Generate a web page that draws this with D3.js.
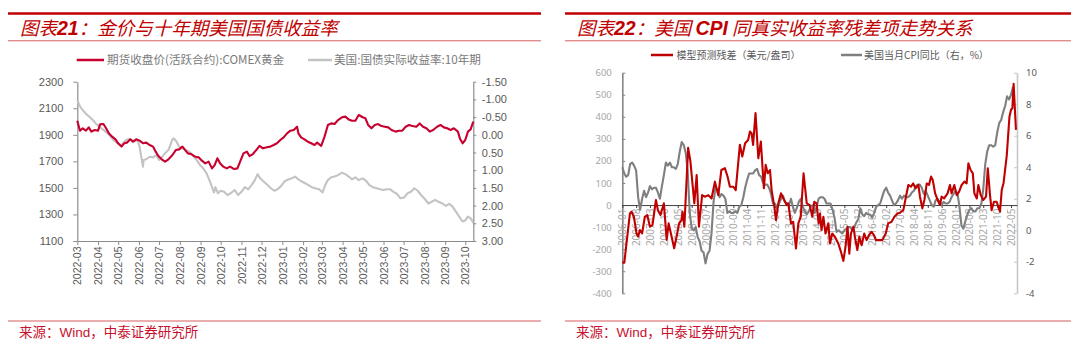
<!DOCTYPE html>
<html><head><meta charset="utf-8">
<script src="https://cdn.jsdelivr.net/npm/d3@7"></script>
<style>
html,body{margin:0;padding:0;background:#fff;}
svg{display:block;}
</style></head><body>
<svg id="c" width="1080" height="356"></svg>
<script>
// ---------- Chart 21 data ----------
const goldDates = ["2022-03-01","2022-03-05","2022-03-09","2022-03-14","2022-03-18","2022-03-22","2022-03-27","2022-04-01","2022-04-04","2022-04-09","2022-04-13","2022-04-17","2022-04-22","2022-04-27","2022-05-01","2022-05-06","2022-05-10","2022-05-14","2022-05-19","2022-05-23","2022-05-28","2022-06-02","2022-06-07","2022-06-12","2022-06-17","2022-06-22","2022-06-26","2022-06-30","2022-07-05","2022-07-10","2022-07-15","2022-07-21","2022-07-26","2022-07-31","2022-08-05","2022-08-09","2022-08-13","2022-08-18","2022-08-24","2022-08-29","2022-09-03","2022-09-08","2022-09-13","2022-09-18","2022-09-22","2022-09-26","2022-09-30","2022-10-05","2022-10-10","2022-10-15","2022-10-21","2022-10-26","2022-10-30","2022-11-04","2022-11-09","2022-11-13","2022-11-18","2022-11-23","2022-11-28","2022-12-03","2022-12-09","2022-12-14","2022-12-19","2022-12-24","2022-12-29","2023-01-03","2023-01-08","2023-01-13","2023-01-18","2023-01-23","2023-01-25","2023-01-29","2023-02-03","2023-02-08","2023-02-13","2023-02-18","2023-02-22","2023-02-28","2023-03-05","2023-03-10","2023-03-15","2023-03-20","2023-03-25","2023-03-31","2023-04-05","2023-04-10","2023-04-15","2023-04-20","2023-04-25","2023-05-01","2023-05-05","2023-05-09","2023-05-14","2023-05-19","2023-05-24","2023-05-29","2023-06-03","2023-06-08","2023-06-13","2023-06-19","2023-06-24","2023-06-29","2023-07-04","2023-07-09","2023-07-14","2023-07-20","2023-07-25","2023-07-30","2023-08-04","2023-08-09","2023-08-14","2023-08-20","2023-08-25","2023-08-30","2023-09-04","2023-09-09","2023-09-14","2023-09-20","2023-09-23","2023-09-27","2023-10-01","2023-10-05","2023-10-09","2023-10-13"];
const goldValues = [2006,1931,1949,1931,1956,1924,1936,1931,1979,1981,1949,1911,1886,1866,1836,1811,1836,1841,1866,1848,1866,1856,1836,1841,1823,1811,1773,1740,1715,1698,1715,1748,1785,1790,1811,1785,1760,1755,1735,1730,1705,1685,1698,1647,1672,1723,1685,1660,1647,1660,1642,1647,1698,1760,1773,1740,1755,1785,1816,1798,1806,1811,1823,1836,1861,1881,1911,1931,1936,1961,1911,1881,1866,1848,1836,1823,1841,1816,1886,1974,1986,1981,2011,2032,2037,2016,2006,2006,2049,2032,2024,1974,1949,1974,1981,1966,1961,1956,1936,1924,1931,1931,1961,1974,1966,1961,1986,1961,1949,1924,1936,1961,1974,1956,1949,1936,1949,1924,1873,1836,1861,1924,1941,1999];
const yieldDates = ["2022-03-01","2022-03-05","2022-03-09","2022-03-14","2022-03-19","2022-03-24","2022-03-29","2022-04-04","2022-04-09","2022-04-14","2022-04-19","2022-04-24","2022-04-29","2022-05-05","2022-05-10","2022-05-15","2022-05-20","2022-05-25","2022-05-30","2022-06-02","2022-06-04","2022-06-07","2022-06-08","2022-06-12","2022-06-17","2022-06-22","2022-06-27","2022-07-01","2022-07-05","2022-07-10","2022-07-15","2022-07-21","2022-07-23","2022-07-27","2022-07-31","2022-08-05","2022-08-10","2022-08-15","2022-08-21","2022-08-26","2022-08-31","2022-09-05","2022-09-10","2022-09-15","2022-09-21","2022-09-23","2022-09-27","2022-10-01","2022-10-06","2022-10-11","2022-10-16","2022-10-22","2022-10-27","2022-11-01","2022-11-06","2022-11-11","2022-11-16","2022-11-21","2022-11-25","2022-11-29","2022-12-04","2022-12-10","2022-12-15","2022-12-20","2022-12-25","2022-12-30","2023-01-04","2023-01-10","2023-01-15","2023-01-20","2023-01-25","2023-01-30","2023-02-04","2023-02-09","2023-02-14","2023-02-19","2023-02-25","2023-03-02","2023-03-06","2023-03-10","2023-03-15","2023-03-20","2023-03-25","2023-03-31","2023-04-05","2023-04-10","2023-04-15","2023-04-20","2023-04-25","2023-05-01","2023-05-06","2023-05-11","2023-05-16","2023-05-22","2023-05-27","2023-06-01","2023-06-06","2023-06-11","2023-06-16","2023-06-21","2023-06-26","2023-07-02","2023-07-07","2023-07-12","2023-07-17","2023-07-22","2023-07-27","2023-08-02","2023-08-07","2023-08-12","2023-08-17","2023-08-22","2023-08-28","2023-09-02","2023-09-07","2023-09-12","2023-09-17","2023-09-22","2023-09-27","2023-10-01","2023-10-05","2023-10-09","2023-10-13"];
const yieldValues = [-0.98,-0.80,-0.70,-0.59,-0.51,-0.42,-0.31,-0.21,-0.14,-0.06,0.03,0.15,0.22,0.31,0.19,0.13,0.13,0.19,0.15,0.34,0.57,0.90,0.71,0.69,0.62,0.64,0.57,0.71,0.64,0.52,0.43,0.13,0.10,0.19,0.34,0.38,0.43,0.48,0.60,0.71,0.85,0.95,1.09,1.32,1.63,1.48,1.65,1.58,1.61,1.70,1.65,1.56,1.70,1.61,1.48,1.54,1.42,1.28,1.11,1.23,1.32,1.42,1.51,1.58,1.54,1.45,1.32,1.26,1.23,1.18,1.26,1.32,1.37,1.42,1.48,1.51,1.54,1.63,1.42,1.28,1.20,1.18,1.14,1.07,1.11,1.18,1.26,1.20,1.28,1.23,1.30,1.42,1.48,1.51,1.54,1.56,1.54,1.54,1.61,1.67,1.79,1.77,1.65,1.61,1.51,1.58,1.70,1.82,1.94,1.89,1.84,1.89,1.94,2.01,1.95,2.03,2.17,2.31,2.45,2.42,2.31,2.36,2.48];
const chart21XTicks = ["2022-03","2022-04","2022-05","2022-06","2022-07","2022-08","2022-09","2022-10","2022-11","2022-12","2023-01","2023-02","2023-03","2023-04","2023-05","2023-06","2023-07","2023-08","2023-09","2023-10"];
const chart21YTicks = [1100,1300,1500,1700,1900,2100,2300];
const chart21Y2Ticks = [-1.5,-1.0,-0.5,0,0.5,1.0,1.5,2.0,2.5,3.0];

// ---------- Chart 22 data ----------
const residualDates = ["2006-01-01","2006-02-01","2006-04-28","2006-05-22","2006-06-28","2006-08-07","2006-09-01","2006-09-28","2006-11-01","2006-12-13","2007-01-19","2007-03-01","2007-04-10","2007-06-01","2007-07-01","2007-08-10","2007-10-01","2007-11-13","2007-12-13","2008-01-16","2008-03-07","2008-04-13","2008-05-22","2008-06-28","2008-07-13","2008-08-10","2008-10-07","2008-11-10","2009-01-10","2009-02-15","2009-03-22","2009-05-10","2009-06-19","2009-08-13","2009-10-01","2009-11-22","2010-01-13","2010-03-01","2010-04-25","2010-06-04","2010-07-10","2010-09-01","2010-10-07","2010-12-10","2011-01-16","2011-02-28","2011-04-16","2011-05-13","2011-06-07","2011-07-01","2011-08-07","2011-09-19","2011-10-28","2011-12-13","2012-01-10","2012-02-10","2012-03-16","2012-04-10","2012-05-22","2012-06-16","2012-07-22","2012-09-01","2012-10-07","2012-11-28","2012-12-22","2013-02-01","2013-03-07","2013-04-19","2013-05-25","2013-07-01","2013-08-13","2013-10-01","2013-11-16","2013-12-25","2014-01-25","2014-03-01","2014-04-01","2014-04-22","2014-05-16","2014-06-13","2014-07-16","2014-08-28","2014-09-22","2014-10-28","2014-12-07","2015-01-28","2015-03-10","2015-04-16","2015-05-19","2015-06-19","2015-07-16","2015-08-10","2015-09-16","2015-10-10","2015-11-16","2015-12-16","2016-01-22","2016-03-01","2016-04-07","2016-05-13","2016-06-22","2016-07-28","2016-08-28","2016-10-13","2016-12-04","2017-01-25","2017-03-04","2017-04-25","2017-06-07","2017-07-25","2017-09-01","2017-10-22","2017-12-01","2018-01-07","2018-02-16","2018-03-22","2018-04-28","2018-06-10","2018-07-04","2018-08-10","2018-09-10","2018-10-16","2018-11-19","2018-12-22","2019-01-16","2019-02-22","2019-04-01","2019-05-07","2019-06-01","2019-07-10","2019-09-01","2019-10-07","2019-11-01","2019-12-13","2020-01-19","2020-02-25","2020-04-04","2020-05-16","2020-06-19","2020-07-16","2020-08-19","2020-09-22","2020-10-16","2020-11-22","2020-12-16","2021-01-22","2021-03-01","2021-04-13","2021-05-10","2021-06-13","2021-07-07","2021-08-13","2021-09-22","2021-10-19","2021-11-13","2021-12-10","2022-01-07","2022-02-25","2022-04-07","2022-05-01","2022-05-22","2022-06-10","2022-07-16"];
const residualValues = [-261,-261,-38,-30,-53,-128,-143,-113,-128,-53,-45,-98,-90,23,-23,-45,8,-158,-83,-128,-196,-143,-83,-68,-30,-98,260,200,8,136,-98,45,38,45,30,106,45,159,167,129,83,83,68,273,220,280,295,333,326,273,417,212,288,76,182,144,159,68,-8,-68,8,53,30,0,8,-83,-76,-197,-83,-53,144,8,0,-53,15,8,-83,-38,-114,-53,-129,-83,-174,-129,-144,-174,-212,-253,-189,-98,-220,-129,-98,-144,-204,-144,-182,-129,-159,-136,-121,-136,-159,-159,-159,-129,-83,-76,-53,-38,-35,-23,38,91,83,98,76,91,38,-15,23,98,91,129,114,53,23,0,38,30,53,91,53,91,45,61,91,106,98,189,159,144,53,30,91,45,23,38,167,45,-23,15,15,-8,-30,68,100,225,400,432,439,550,341];
const cpiStart = "2006-01";
const cpiValues = [
 4.0,3.6,3.4,3.5,4.2,4.3,4.1,3.8,2.1,1.3,2.0,2.5,
 2.1,2.4,2.8,2.6,2.7,2.7,2.4,2.0,2.8,3.5,4.3,4.1,
 4.3,4.0,4.0,3.9,4.2,5.0,5.6,5.4,4.9,3.7,1.1,0.1,
 0.0,0.2,-0.4,-0.7,-1.3,-1.4,-2.1,-1.5,-1.3,-0.2,1.8,2.7,
 2.6,2.1,2.3,2.2,2.0,1.1,1.2,1.1,1.1,1.2,1.1,1.5,
 1.6,2.1,2.7,3.2,3.6,3.6,3.6,3.8,3.9,3.5,3.4,3.0,
 2.9,2.9,2.7,2.3,1.7,1.7,1.4,1.7,2.0,2.2,1.8,1.7,
 1.6,2.0,1.5,1.1,1.4,1.8,2.0,1.5,1.2,1.0,1.2,1.5,
 1.6,1.1,1.5,2.0,2.1,2.1,2.0,1.7,1.7,1.7,1.3,0.8,
 -0.1,0.0,-0.1,-0.2,0.0,0.1,0.2,0.2,0.0,0.2,0.5,0.7,
 1.4,1.0,0.9,1.1,1.0,1.0,0.8,1.1,1.5,1.6,1.7,2.1,
 2.5,2.7,2.4,2.2,1.9,1.6,1.7,1.9,2.2,2.0,2.2,2.1,
 2.1,2.2,2.4,2.5,2.8,2.9,2.9,2.7,2.3,2.5,2.2,1.9,
 1.6,1.5,1.9,2.0,1.8,1.6,1.8,1.7,1.7,1.8,2.1,2.3,
 2.5,2.3,1.5,0.3,0.1,0.6,1.0,1.3,1.4,1.2,1.2,1.4,
 1.4,1.7,2.6,4.2,5.0,5.4,5.4,5.3,5.4,6.2,6.8,7.0,
 7.5,7.9,8.5,8.3,8.6,9.1];
const chart22XTicks = ["2006-01","2006-08","2007-03","2007-10","2008-05","2008-12","2009-07","2010-02","2010-09","2011-04","2011-11","2012-06","2013-01","2013-08","2014-03","2014-10","2015-05","2015-12","2016-07","2017-02","2017-09","2018-04","2018-11","2019-06","2020-01","2020-08","2021-03","2021-10","2022-05"];
const chart22YTicks = [-400,-300,-200,-100,0,100,200,300,400,500,600];
const chart22Y2Ticks = [-4,-2,0,2,4,6,8,10];

// ---------- drawing ----------
const svg = d3.select("#c");
const pDay = d3.timeParse("%Y-%m-%d");
const pMon = d3.timeParse("%Y-%m");
const fMon = d3.timeFormat("%Y-%m");
const CJK = "'Noto Sans CJK SC', 'Noto Sans', sans-serif";
const RED = "#C00000";
const hy = s => s.replace(/\u2212/g, "-");

function frame(x0, x1, tx, parts) {
  svg.append("line").attr("x1", x0).attr("x2", x1).attr("y1", 13.5).attr("y2", 13.5)
     .attr("stroke", RED).attr("stroke-width", 2.6);
  svg.append("line").attr("x1", x0).attr("x2", x1).attr("y1", 40.8).attr("y2", 40.8)
     .attr("stroke", "#D24B4B").attr("stroke-width", 0.9);
  svg.append("line").attr("x1", x0).attr("x2", x1).attr("y1", 321).attr("y2", 321)
     .attr("stroke", "#D24B4B").attr("stroke-width", 0.9);
  const t = svg.append("text").attr("x", tx).attr("y", 35).attr("fill", RED)
     .attr("font-size", 18.5).attr("font-style", "italic").attr("font-family", CJK);
  parts.forEach(p => {
    const s = t.append("tspan").text(p.t);
    if (p.b) s.attr("font-family", "'Liberation Sans', Arial, sans-serif").attr("font-weight", "bold").attr("font-size", 19.5);
  });
  const src = svg.append("text").attr("x", tx - 1).attr("y", 337).attr("fill", "#C8102E")
     .attr("font-size", 13.5).attr("font-family", CJK);
  src.append("tspan").text("来源：");
  src.append("tspan").attr("font-family", "'Liberation Sans', Arial, sans-serif").text("Wind");
  src.append("tspan").text("，中泰证券研究所");
}

frame(8, 541, 20, [{t:"图表"},{t:"21",b:true},{t:"：金价与十年期美国国债收益率"}]);
frame(565, 1071, 577, [{t:"图表"},{t:"22",b:true},{t:"：美国 "},{t:"CPI",b:true},{t:" 同真实收益率残差项走势关系"}]);

// ===== Chart 21 =====
{
  const g = svg.append("g");
  const x = d3.scaleTime().domain([pDay("2022-03-01"), pDay("2023-10-13")]).range([77.3, 473.3]);
  const y = d3.scaleLinear().domain([1100, 2300]).range([241, 81.7]);
  const y2 = d3.scaleLinear().domain([-1.5, 3.0]).range([81.7, 241]);
  const NUM = "'Liberation Sans', Arial, sans-serif";
  const AX = "#8C8C8C";

  const ax = g.append("g").attr("transform", "translate(77.3,0)")
    .call(d3.axisLeft(y).tickValues(chart21YTicks).tickSize(4).tickSizeOuter(0).tickPadding(10).tickFormat(d3.format("d")));
  const ar = g.append("g").attr("transform", "translate(473.3,0)")
    .call(d3.axisRight(y2).tickValues(chart21Y2Ticks).tickSize(3).tickSizeOuter(0).tickPadding(5.5).tickFormat(d => hy(d3.format(".2f")(d))));
  const ab = g.append("g").attr("transform", "translate(0,241)")
    .call(d3.axisBottom(x).tickValues(chart21XTicks.map(pMon)).tickSize(4).tickSizeOuter(0).tickFormat(fMon));
  ab.selectAll("text").attr("transform", "rotate(-90)").attr("text-anchor", "end")
    .attr("x", -5.5).attr("y", 0).attr("dy", "0.35em");
  [ax, ar, ab].forEach(a => {
    a.select(".domain").attr("stroke", AX).attr("stroke-width", 1.2);
    a.selectAll(".tick line").attr("stroke", AX);
    a.selectAll("text").attr("fill", "#595959").attr("font-family", NUM).attr("font-size", 11);
  });
  ab.selectAll("text").attr("font-size", 10.5);

  const yl = d3.line().x((d, i) => x(pDay(yieldDates[i]))).y(d => y2(d));
  g.append("path").datum(yieldValues).attr("d", yl).attr("fill", "none")
    .attr("stroke", "#C3C3C3").attr("stroke-width", 2.1).attr("stroke-linejoin", "round");
  const gl = d3.line().x((d, i) => x(pDay(goldDates[i]))).y(d => y(d));
  g.append("path").datum(goldValues).attr("d", gl).attr("fill", "none")
    .attr("stroke", "#C8002F").attr("stroke-width", 2.1).attr("stroke-linejoin", "round");

  // legend
  g.append("line").attr("x1", 76.7).attr("x2", 104).attr("y1", 60).attr("y2", 60).attr("stroke", "#C8002F").attr("stroke-width", 2.5);
  g.append("text").attr("x", 107).attr("y", 60).attr("dy", "0.35em").attr("font-size", 11.6)
    .attr("font-family", CJK).attr("fill", "#7A7A7A").text("期货收盘价(活跃合约):COMEX黄金");
  g.append("line").attr("x1", 308).attr("x2", 332).attr("y1", 60).attr("y2", 60).attr("stroke", "#C3C3C3").attr("stroke-width", 2.5);
  g.append("text").attr("x", 334).attr("y", 60).attr("dy", "0.35em").attr("font-size", 11.6)
    .attr("font-family", CJK).attr("fill", "#7A7A7A").text("美国:国债实际收益率:10年期");
}

// ===== Chart 22 =====
{
  const g = svg.append("g");
  const x = d3.scaleTime().domain([pDay("2006-01-01"), pDay("2022-08-01")]).range([622.3, 1017]);
  const y = d3.scaleLinear().domain([-400, 600]).range([293.3, 72.7]);
  const y2 = d3.scaleLinear().domain([-4, 10]).range([293.3, 72.7]);
  const NUM = "'Noto Sans', sans-serif";

  const al = g.append("g").attr("transform", "translate(622.3,0)")
    .call(d3.axisLeft(y).tickValues(chart22YTicks).tickSize(-3).tickSizeOuter(0).tickPadding(10.5).tickFormat(d => hy(d3.format("d")(d))));
  al.select(".domain").attr("stroke", "#858585").attr("stroke-width", 1.6);
  al.selectAll(".tick line").attr("stroke", "#858585");
  al.selectAll("text").attr("fill", "#A6A6A6").attr("font-family", NUM).attr("font-size", 9.5);

  const ar = g.append("g").attr("transform", "translate(1017,0)")
    .call(d3.axisRight(y2).tickValues(chart22Y2Ticks).tickSize(-3).tickSizeOuter(0).tickPadding(9).tickFormat(d => hy(d3.format("d")(d))));
  ar.select(".domain").attr("stroke", "#C8C8C8").attr("stroke-width", 1.6);
  ar.selectAll(".tick line").attr("stroke", "#C8C8C8");
  ar.selectAll("text").attr("fill", "#595959").attr("font-family", NUM).attr("font-size", 9.5);

  const ab = g.append("g").attr("transform", "translate(0," + y(0) + ")")
    .call(d3.axisBottom(x).tickValues(chart22XTicks.map(pMon)).tickSize(3).tickSizeOuter(0).tickFormat(fMon));
  ab.select(".domain").attr("stroke", "#404040").attr("stroke-width", 1);
  ab.selectAll(".tick line").attr("stroke", "#404040");
  ab.selectAll("text").attr("transform", "rotate(-90)").attr("text-anchor", "end")
    .attr("x", -3.5).attr("y", 0).attr("dy", "0.35em")
    .attr("fill", "#A6A6A6").attr("font-family", NUM).attr("font-size", 10);

  const cpiDates = cpiValues.map((d, i) => d3.timeMonth.offset(pMon(cpiStart), i));
  const cl = d3.line().x((d, i) => x(cpiDates[i])).y(d => y2(d));
  g.append("path").datum(cpiValues).attr("d", cl).attr("fill", "none")
    .attr("stroke", "#7F7F7F").attr("stroke-width", 2.1).attr("stroke-linejoin", "round");
  const rl = d3.line().x((d, i) => x(pDay(residualDates[i]))).y(d => y(d));
  g.append("path").datum(residualValues).attr("d", rl).attr("fill", "none")
    .attr("stroke", "#C00000").attr("stroke-width", 2.1).attr("stroke-linejoin", "round");

  // legend
  g.append("line").attr("x1", 651).attr("x2", 673).attr("y1", 55).attr("y2", 55).attr("stroke", "#C00000").attr("stroke-width", 2.5);
  g.append("text").attr("x", 676.5).attr("y", 55).attr("dy", "0.35em").attr("font-size", 10)
    .attr("font-family", CJK).attr("fill", "#595959").text("模型预测残差（美元/盎司）");
  g.append("line").attr("x1", 841).attr("x2", 862).attr("y1", 55).attr("y2", 55).attr("stroke", "#7F7F7F").attr("stroke-width", 2.5);
  g.append("text").attr("x", 864).attr("y", 55).attr("dy", "0.35em").attr("font-size", 10)
    .attr("font-family", CJK).attr("fill", "#595959").text("美国当月CPI同比（右，%）");
}
</script>
</body></html>
